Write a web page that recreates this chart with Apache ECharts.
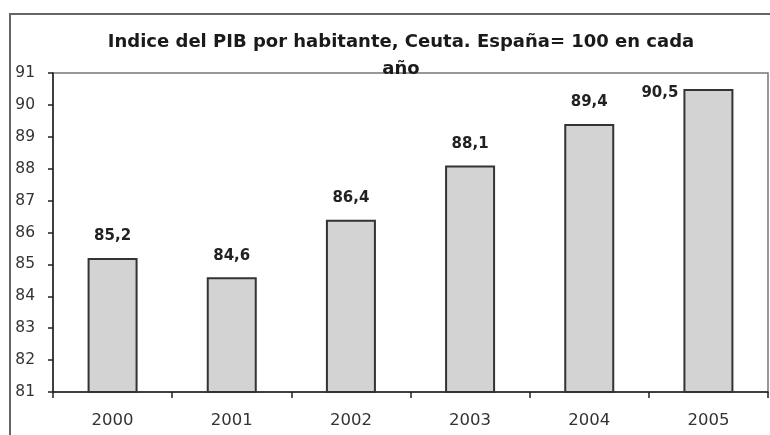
<!DOCTYPE html>
<html>
<head>
<meta charset="utf-8">
<script src="https://cdn.jsdelivr.net/npm/echarts@6/dist/echarts.min.js"></script>
<style>html,body{margin:0;padding:0;background:#fff}#c{width:770px;height:435px}</style>
</head>
<body>
<div id="c"></div>
<script>
const titleText = "Indice del PIB por habitante, Ceuta. España= 100 en cada\naño";
const categories = ["2000", "2001", "2002", "2003", "2004", "2005"];
const values = [85.2, 84.6, 86.4, 88.1, 89.4, 90.5];
const yMin = 81, yMax = 91, yStep = 1;

const chart = echarts.init(document.getElementById('c'), null, {renderer: 'canvas'});
const fmt = v => v.toFixed(1).replace('.', ',');
const seriesData = values.map((v, i) => {
  const item = {value: v};
  if (i === values.length - 1) {
    item.label = {position: [-5, -3], align: 'right', verticalAlign: 'top'};
  }
  return item;
});
chart.setOption({
  animation: false,
  backgroundColor: '#fff',
  title: {
    text: titleText,
    left: 396, top: 24, textAlign: 'center',
    textStyle: {fontFamily: 'DejaVu Sans', fontWeight: 'bold', fontSize: 18, color: '#1a1a1a', lineHeight: 27}
  },
  graphic: [{
    type: 'rect', z: -1, silent: true,
    shape: {x: 10, y: 14, width: 800, height: 500},
    style: {fill: 'none', stroke: '#666', lineWidth: 2}
  }],
  grid: {left: 53, right: 2, top: 73, bottom: 43, show: true, borderColor: '#777', borderWidth: 1.5, containLabel: false},
  xAxis: {
    type: 'category', data: categories, boundaryGap: true,
    axisLine: {lineStyle: {color: '#222', width: 1.5}},
    axisTick: {show: true, alignWithLabel: false, length: 6, lineStyle: {color: '#222', width: 1.5}},
    axisLabel: {margin: 20, fontFamily: 'DejaVu Sans', fontSize: 16.5, color: '#333'}
  },
  yAxis: {
    type: 'value', min: yMin, max: yMax, interval: yStep,
    axisLine: {show: true, lineStyle: {color: '#222', width: 1.5}},
    axisTick: {show: true, length: 5, lineStyle: {color: '#222', width: 1.5}},
    splitLine: {show: false},
    axisLabel: {margin: 18, fontFamily: 'DejaVu Sans', fontSize: 15.5, color: '#333'}
  },
  series: [{
    type: 'bar', data: seriesData, barWidth: 50,
    itemStyle: {color: '#d3d3d3', borderColor: '#333', borderWidth: 2},
    label: {
      show: true, position: 'top', distance: 14,
      formatter: p => fmt(p.value),
      fontFamily: 'DejaVu Sans', fontWeight: 'bold', fontSize: 15, color: '#222'
    }
  }]
});
</script>
</body>
</html>
